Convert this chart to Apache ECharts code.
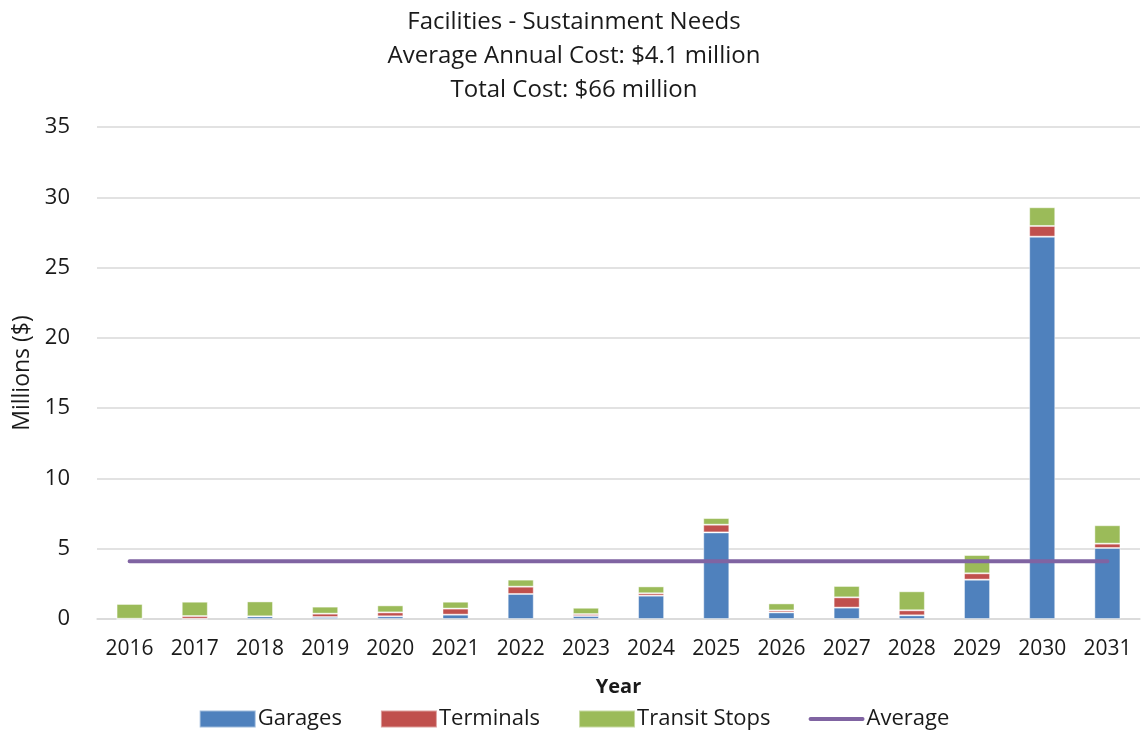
<!DOCTYPE html>
<html>
<head>
<meta charset="utf-8">
<script src="https://cdn.jsdelivr.net/npm/echarts@6/dist/echarts.min.js"></script>
<style>html,body{margin:0;padding:0;background:#fff}#c{width:1148px;height:735px}</style>
</head>
<body>
<div id="c"></div>
<script>
const years = ['2016','2017','2018','2019','2020','2021','2022','2023','2024','2025','2026','2027','2028','2029','2030','2031'];
const garages =      [0.00, 0.02, 0.19, 0.14, 0.19, 0.31, 1.78, 0.21, 1.66, 6.16, 0.47, 0.81, 0.26, 2.80, 27.20, 5.05];
const terminals =    [0.02, 0.19, 0.00, 0.24, 0.28, 0.43, 0.52, 0.14, 0.17, 0.55, 0.14, 0.73, 0.36, 0.45, 0.76, 0.31];
const transitStops = [1.05, 1.02, 1.06, 0.50, 0.50, 0.49, 0.50, 0.45, 0.49, 0.47, 0.50, 0.81, 1.35, 1.30, 1.33, 1.31];
const average =      [4.1, 4.1, 4.1, 4.1, 4.1, 4.1, 4.1, 4.1, 4.1, 4.1, 4.1, 4.1, 4.1, 4.1, 4.1, 4.1];
const titleLines = ['Facilities - Sustainment Needs', 'Average Annual Cost: $4.1 million', 'Total Cost: $66 million'];

const FONT = '"Open Sans", sans-serif';
const chart = echarts.init(document.getElementById('c'));
const barStyle = (color) => ({ color: color, borderColor: 'rgba(255,255,255,0.45)', borderWidth: 1 });
chart.setOption({
  animation: false,
  textStyle: { fontFamily: FONT },
  title: {
    text: titleLines.join('\n'),
    left: 'center', top: 0,
    textStyle: { fontFamily: FONT, fontSize: 24, fontWeight: 'normal', color: '#1a1a1a', lineHeight: 34 }
  },
  legend: {
    bottom: 0, left: 'center',
    itemWidth: 56, itemHeight: 17, itemGap: 38,
    textStyle: { fontFamily: FONT, fontSize: 22, color: '#1a1a1a', padding: [0, 0, 0, -3] },
    data: [
      { name: 'Garages', icon: 'rect' },
      { name: 'Terminals', icon: 'rect' },
      { name: 'Transit Stops', icon: 'rect' },
      { name: 'Average', icon: 'path://M2,0 H54 A2,2 0 0 1 54,4 H2 A2,2 0 0 1 2,0 Z' }
    ]
  },
  grid: { left: 97, right: 8, top: 127, bottom: 116, containLabel: false },
  xAxis: {
    type: 'category', data: years,
    name: 'Year', nameLocation: 'middle', nameGap: 58,
    nameTextStyle: { fontFamily: FONT, fontSize: 20, fontWeight: 'bold', color: '#1a1a1a' },
    axisLine: { show: true, lineStyle: { color: '#D9D9D9', width: 1.5 } },
    axisTick: { show: false },
    axisLabel: { fontFamily: FONT, fontSize: 21, color: '#1a1a1a', margin: 20 }
  },
  yAxis: {
    type: 'value', min: 0, max: 35, interval: 5,
    name: 'Millions ($)', nameLocation: 'middle', nameGap: 63,
    nameTextStyle: { fontFamily: FONT, fontSize: 23, color: '#1a1a1a' },
    axisLine: { show: false }, axisTick: { show: false },
    axisLabel: { fontFamily: FONT, fontSize: 22, color: '#1a1a1a', margin: 27 },
    splitLine: { lineStyle: { color: '#D9D9D9', width: 1.5 } }
  },
  series: [
    { name: 'Garages', type: 'bar', stack: 's', data: garages, barWidth: '40%', itemStyle: barStyle('#4F81BD') },
    { name: 'Terminals', type: 'bar', stack: 's', data: terminals, barWidth: '40%', itemStyle: barStyle('#C0504D') },
    { name: 'Transit Stops', type: 'bar', stack: 's', data: transitStops, barWidth: '40%', itemStyle: barStyle('#9BBB59') },
    { name: 'Average', type: 'line', data: average, symbol: 'none', showSymbol: false, z: 5,
      lineStyle: { color: '#8064A2', width: 4, cap: 'round' }, itemStyle: { color: '#8064A2' } }
  ]
});
</script>
</body>
</html>
